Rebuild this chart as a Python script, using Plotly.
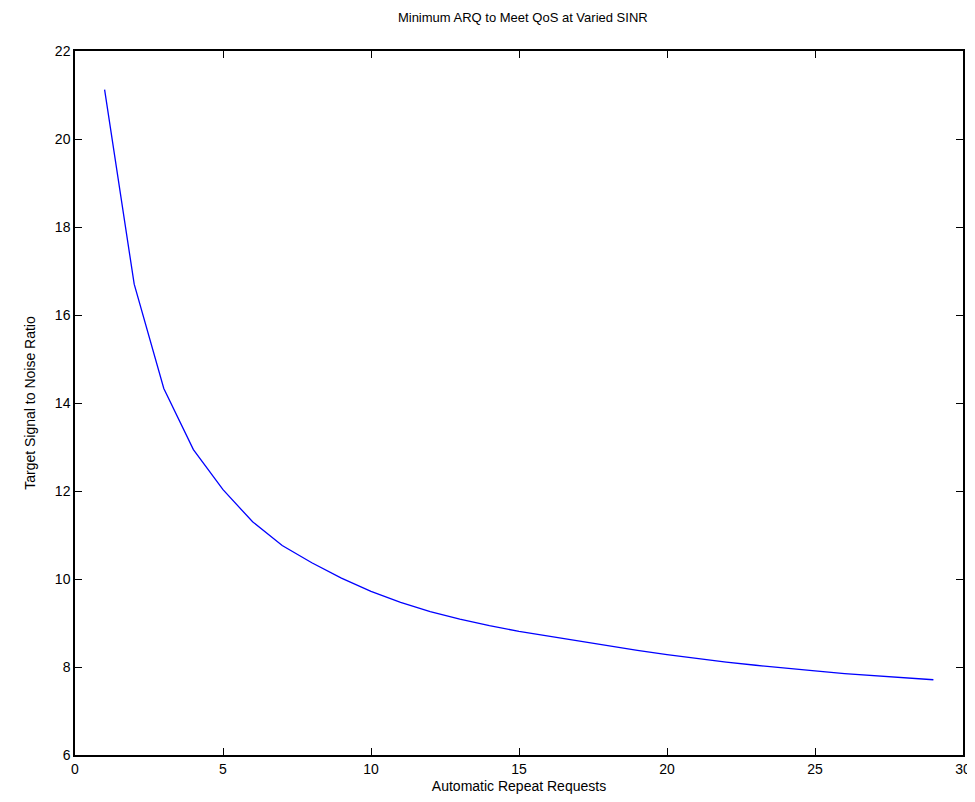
import plotly.graph_objects as go

arq = list(range(1, 30))
snr = [21.12, 16.7, 14.33, 12.94, 12.03, 11.3, 10.76, 10.37, 10.02, 9.72,
       9.47, 9.26, 9.09, 8.94, 8.81, 8.70, 8.59, 8.48, 8.38, 8.28,
       8.19, 8.11, 8.04, 7.97, 7.91, 7.85, 7.80, 7.75, 7.71]

title = "Minimum ARQ to Meet QoS at Varied SINR"
xlabel = "Automatic Repeat Requests"
ylabel = "Target Signal to Noise Ratio"

fig = go.Figure(go.Scatter(x=arq, y=snr, mode="lines",
                           line=dict(color="#0000ff", width=1.3),
                           showlegend=False))

font = "Liberation Sans, Arial, sans-serif"
axis_common = dict(showgrid=False, zeroline=False, showline=True, linecolor="black",
                   linewidth=1.5, mirror="ticks", ticks="inside", ticklen=7,
                   tickcolor="black", tickwidth=1.2,
                   tickfont=dict(family=font, size=14, color="black"))

fig.update_layout(
    width=975, height=802,
    margin=dict(l=67, r=12, t=43, b=55),
    paper_bgcolor="white", plot_bgcolor="white",
    title=dict(text=title, x=0.528, xanchor="center", y=0.994, yanchor="top",
               font=dict(family=font, size=13, color="black")),
    xaxis=dict(range=[0, 30], tickvals=[0, 5, 10, 15, 20, 25, 30],
               title=dict(text=xlabel, font=dict(family=font, size=14, color="black"), standoff=6),
               **axis_common),
    yaxis=dict(range=[6, 22], tickvals=[6, 8, 10, 12, 14, 16, 18, 20, 22],
               title=dict(text=ylabel, font=dict(family=font, size=14, color="black"), standoff=16),
               **axis_common),
)

fig.write_html("out.html")
